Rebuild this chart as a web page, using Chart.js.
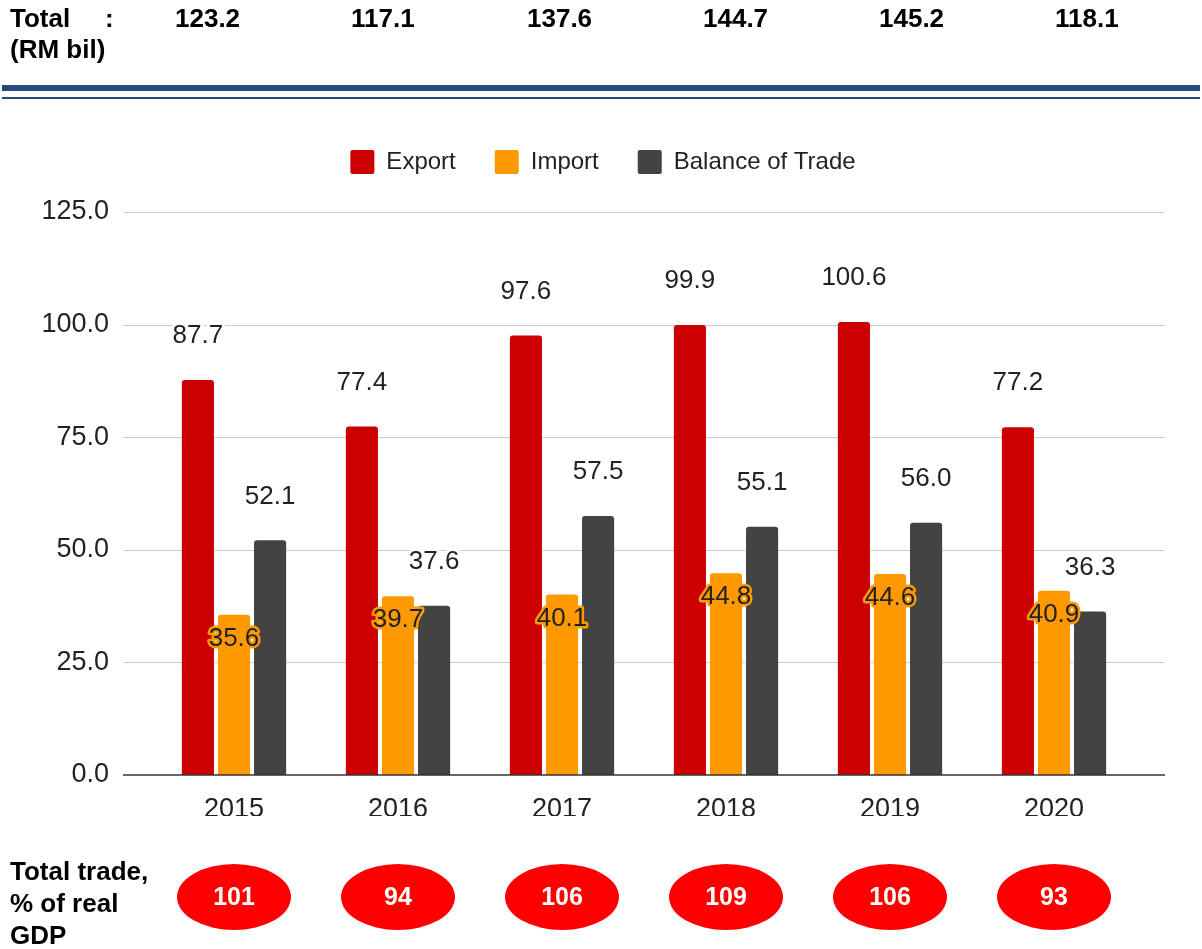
<!DOCTYPE html>
<html>
<head>
<meta charset="utf-8">
<script src="https://cdn.jsdelivr.net/npm/chart.js@4.4.1/dist/chart.umd.min.js"></script>
<style>
  html, body { margin: 0; padding: 0; background: #fff; }
  body {
    width: 1202px; height: 949px; position: relative; overflow: hidden;
    font-family: "Liberation Sans", Arial, sans-serif; color: #000;
  }
  #trade { position: absolute; left: 0; top: 0; }
  .bold { position: absolute; font-weight: bold; white-space: nowrap; }
  .hdr { font-size: 26px; line-height: 30px; }
  .rule { position: absolute; left: 2px; width: 1198px; background: #254a7c; }
  .foot { font-size: 26px; line-height: 32px; }
</style>
</head>
<body>
<canvas id="trade" width="1202" height="949"></canvas>

<div class="bold hdr" style="left:10px; top:3px;">Total</div>
<div class="bold hdr" style="left:105px; top:3px;">:</div>
<div class="bold hdr" style="left:10px; top:34px;">(RM bil)</div>
<div id="totals"></div>
<div class="rule" style="top:85px; height:6px;"></div>
<div class="rule" style="top:97px; height:2px;"></div>

<div class="bold foot" style="left:10px; top:855px;">Total trade,<br>% of real<br>GDP</div>

<script>
const FONT = '"Liberation Sans", Arial, sans-serif';
const INK = "#222";

const years = ["2015", "2016", "2017", "2018", "2019", "2020"];
const exportVals = [87.7, 77.4, 97.6, 99.9, 100.6, 77.2];
const importVals = [35.6, 39.7, 40.1, 44.8, 44.6, 40.9];
const balanceVals = [52.1, 37.6, 57.5, 55.1, 56.0, 36.3];
const totalTrade = [123.2, 117.1, 137.6, 144.7, 145.2, 118.1];
const gdpShare = [101, 94, 106, 109, 106, 93];
const yTicks = [0, 25, 50, 75, 100, 125];

const EXPORT_RED = "#cc0000";
const IMPORT_ORANGE = "#ff9900";
const BALANCE_GREY = "#434343";

// header row of totals
const totalsBox = document.getElementById("totals");
totalTrade.forEach((v, i) => {
  const el = document.createElement("div");
  el.className = "bold hdr";
  el.style.left = 175 + i * 176 + "px";
  el.style.top = "3px";
  el.textContent = v.toFixed(1);
  totalsBox.appendChild(el);
});

// extra room under the legend, and keep it centred on the whole canvas
const legendSpace = {
  id: "legendSpace",
  beforeInit(chart) {
    const fit = chart.legend.fit;
    chart.legend.fit = function () {
      fit.call(this);
      this.height += 28;
    };
  },
  afterLayout(chart) {
    chart.legend.left += 35;
    chart.legend.right += 35;
  },
};

// gridlines run a little past the bar area on both sides
const gridLines = {
  id: "gridLines",
  beforeDatasetsDraw(chart) {
    const { ctx, chartArea, scales: { y } } = chart;
    ctx.save();
    ctx.strokeStyle = "#cccccc";
    ctx.lineWidth = 1.2;
    yTicks.forEach((t) => {
      if (t === 0) return;
      const py = Math.round(y.getPixelForValue(t)) + 0.5;
      ctx.beginPath();
      ctx.moveTo(chartArea.left - 29, py);
      ctx.lineTo(chartArea.right + 29, py);
      ctx.stroke();
    });
    ctx.restore();
  },
  afterDatasetsDraw(chart) {
    const { ctx, chartArea, scales: { y } } = chart;
    const py = y.getPixelForValue(0);
    ctx.save();
    ctx.strokeStyle = "#333";
    ctx.lineWidth = 1.5;
    ctx.beginPath();
    ctx.moveTo(chartArea.left - 29, py);
    ctx.lineTo(chartArea.right + 29, py);
    ctx.stroke();
    ctx.restore();
  },
};

// value labels: above the bar, or inside the top for imports
const barLabels = {
  id: "barLabels",
  afterDatasetsDraw(chart) {
    const ctx = chart.ctx;
    ctx.save();
    ctx.font = `26px ${FONT}`;
    ctx.textAlign = "center";
    ctx.textBaseline = "middle";
    ctx.lineJoin = "round";
    chart.data.datasets.forEach((ds, i) => {
      const meta = chart.getDatasetMeta(i);
      const inside = i === 1;
      meta.data.forEach((bar, j) => {
        const txt = ds.data[j].toFixed(1);
        const y = inside ? bar.y + 24 : bar.y - 44;
        ctx.lineWidth = inside ? 5 : 6;
        ctx.strokeStyle = inside ? IMPORT_ORANGE : "#fff";
        ctx.strokeText(txt, bar.x, y);
        ctx.fillStyle = INK;
        ctx.fillText(txt, bar.x, y);
      });
    });
    ctx.restore();
  },
};

// red ovals with trade as % of GDP, one per year
const gdpBadges = {
  id: "gdpBadges",
  afterDraw(chart) {
    const { ctx, scales: { x } } = chart;
    ctx.save();
    ctx.textAlign = "center";
    ctx.textBaseline = "middle";
    ctx.font = `bold 25px ${FONT}`;
    gdpShare.forEach((v, i) => {
      const cx = x.getPixelForValue(i);
      ctx.beginPath();
      ctx.ellipse(cx, 897, 57, 33, 0, 0, Math.PI * 2);
      ctx.fillStyle = "#ff0000";
      ctx.fill();
      ctx.fillStyle = "#fff";
      ctx.fillText(String(v), cx, 898);
    });
    ctx.restore();
  },
};

const barStyle = {
  borderWidth: 0,
  borderRadius: 3,
  borderSkipped: "start",
  categoryPercentage: 0.66,
  barPercentage: 0.89,
};

new Chart(document.getElementById("trade"), {
  type: "bar",
  data: {
    labels: years,
    datasets: [
      { label: "Export", data: exportVals, backgroundColor: EXPORT_RED, ...barStyle },
      { label: "Import", data: importVals, backgroundColor: IMPORT_ORANGE, ...barStyle },
      { label: "Balance of Trade", data: balanceVals, backgroundColor: BALANCE_GREY, ...barStyle },
    ],
  },
  options: {
    responsive: false,
    animation: false,
    devicePixelRatio: 1,
    layout: { padding: { top: 111, right: 66, bottom: 133, left: 0 } },
    plugins: {
      legend: {
        position: "top",
        labels: {
          boxWidth: 24,
          boxHeight: 24,
          useBorderRadius: true,
          borderRadius: 2,
          padding: 39,
          color: INK,
          font: { family: FONT, size: 24 },
        },
      },
      tooltip: { enabled: false },
    },
    scales: {
      x: {
        grid: { display: false },
        border: { display: false },
        ticks: { color: INK, padding: 10, font: { family: FONT, size: 27 } },
        afterFit: (s) => { s.height = 41; },
      },
      y: {
        min: 0,
        max: 125,
        grid: { display: false },
        border: { display: false },
        afterBuildTicks: (s) => { s.ticks = yTicks.map((v) => ({ value: v })); },
        ticks: {
          color: INK,
          padding: 35,
          font: { family: FONT, size: 27 },
          callback: (v) => Number(v).toFixed(1),
        },
        afterFit: (s) => { s.width = 152; },
      },
    },
  },
  plugins: [legendSpace, gridLines, barLabels, gdpBadges],
});
</script>
</body>
</html>
